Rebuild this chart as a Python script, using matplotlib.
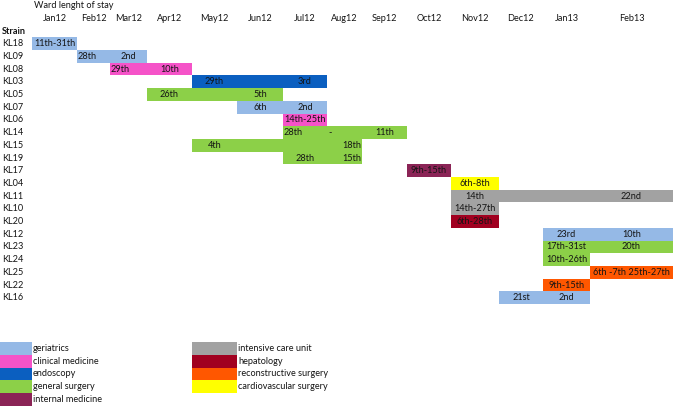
import matplotlib
matplotlib.use("Agg")
import matplotlib.pyplot as plt

# ---------------- data ----------------
months = ["Jan12", "Feb12", "Mar12", "Apr12", "May12", "Jun12", "Jul12",
          "Aug12", "Sep12", "Oct12", "Nov12", "Dec12", "Jan13", "Feb13"]

strains = ["KL18", "KL09", "KL08", "KL03", "KL05", "KL07", "KL06", "KL14",
           "KL15", "KL19", "KL17", "KL04", "KL11", "KL10", "KL20", "KL12",
           "KL23", "KL24", "KL25", "KL22", "KL16"]

bar_start = ["Jan12", "Feb12", "Mar12", "May12", "Apr12", "Jun12", "Jul12", "Jul12",
             "May12", "Jul12", "Oct12", "Nov12", "Nov12", "Nov12", "Nov12", "Jan13",
             "Jan13", "Jan13", "Feb13", "Jan13", "Dec12"]
bar_end = ["Jan12", "Mar12", "Apr12", "Jul12", "Jun12", "Jul12", "Jul12", "Sep12",
           "Aug12", "Aug12", "Oct12", "Nov12", "Feb13", "Nov12", "Nov12", "Feb13",
           "Feb13", "Jan13", "Feb13", "Jan13", "Jan13"]
bar_ward = ["geriatrics", "geriatrics", "clinical medicine", "endoscopy",
            "general surgery", "geriatrics", "clinical medicine", "general surgery",
            "general surgery", "general surgery", "internal medicine",
            "cardiovascular surgery", "intensive care unit", "intensive care unit",
            "hepatology", "geriatrics", "general surgery", "general surgery",
            "reconstructive surgery", "reconstructive surgery", "geriatrics"]

# (strain, month, text)
bar_labels = [
    ("KL18", "Jan12", "11th-31th"),
    ("KL09", "Feb12", "28th"), ("KL09", "Mar12", "2nd"),
    ("KL08", "Mar12", "29th"), ("KL08", "Apr12", "10th"),
    ("KL03", "May12", "29th"), ("KL03", "Jul12", "3rd"),
    ("KL05", "Apr12", "26th"), ("KL05", "Jun12", "5th"),
    ("KL07", "Jun12", "6th"), ("KL07", "Jul12", "2nd"),
    ("KL06", "Jul12", "14th-25th"),
    ("KL14", "Jul12", "28th"), ("KL14", "Aug12", "-"), ("KL14", "Sep12", "11th"),
    ("KL15", "May12", "4th"), ("KL15", "Aug12", "18th"),
    ("KL19", "Jul12", "28th"), ("KL19", "Aug12", "15th"),
    ("KL17", "Oct12", "9th-15th"),
    ("KL04", "Nov12", "6th-8th"),
    ("KL11", "Nov12", "14th"), ("KL11", "Feb13", "22nd"),
    ("KL10", "Nov12", "14th-27th"),
    ("KL20", "Nov12", "6th-28th"),
    ("KL12", "Jan13", "23rd"), ("KL12", "Feb13", "10th"),
    ("KL23", "Jan13", "17th-31st"), ("KL23", "Feb13", "20th"),
    ("KL24", "Jan13", "10th-26th"),
    ("KL25", "Feb13", "6th -7th 25th-27th"),
    ("KL22", "Jan13", "9th-15th"),
    ("KL16", "Dec12", "21st"), ("KL16", "Jan13", "2nd"),
]

legend_left = ["geriatrics", "clinical medicine", "endoscopy", "general surgery",
               "internal medicine"]
legend_right = ["intensive care unit", "hepatology", "reconstructive surgery",
                "cardiovascular surgery"]

# ---------------- style / layout ----------------
ward_colors = {
    "geriatrics": "#95B9E6",
    "clinical medicine": "#F553C8",
    "endoscopy": "#0B5FC0",
    "general surgery": "#8CD048",
    "internal medicine": "#8B2456",
    "intensive care unit": "#A2A2A2",
    "hepatology": "#A10020",
    "reconstructive surgery": "#FF5700",
    "cardiovascular surgery": "#FFFF00",
}
label_align = {("KL09", "Feb12"): "left", ("KL08", "Mar12"): "left",
               ("KL14", "Jul12"): "left", ("KL14", "Aug12"): "left",
               ("KL15", "Aug12"): "right", ("KL19", "Aug12"): "right"}

first_col_w = 32
col_widths = [45, 33, 37, 45, 45, 46, 44, 35, 45, 44, 48, 44, 47, 83]
edges = [first_col_w]
for w in col_widths:
    edges.append(edges[-1] + w)
mi = {m: i for i, m in enumerate(months)}

FONT = ["Lato", "DejaVu Sans"]
FS = 6.6
TXT = "#141414"

fig = plt.figure(figsize=(6.75, 4.09), dpi=100)
ax = fig.add_axes([0, 0, 1, 1])
ax.set_xlim(0, 675)
row_h = 12.7
r_top = -31 / row_h
ax.set_ylim(r_top + 409 / row_h, r_top)
ax.axis("off")

# header
ax.text(edges[0] + 2, -2, "Ward lenght of stay", ha="left", va="center",
        fontsize=FS, family=FONT, color=TXT)
for i, m in enumerate(months):
    ax.text((edges[i] + edges[i + 1]) / 2, -1, m, ha="center", va="center",
            fontsize=FS, family=FONT, color=TXT)
ax.text(2, 0, "Strain", ha="left", va="center", fontsize=FS, family=FONT,
        color=TXT, fontweight="bold")

row_of = {}
for r, s in enumerate(strains, start=1):
    row_of[s] = r
    ax.text(2, r, s, ha="left", va="center", fontsize=FS, family=FONT, color=TXT)

for s, a, b, w in zip(strains, bar_start, bar_end, bar_ward):
    x0 = edges[mi[a]]
    x1 = edges[mi[b] + 1]
    ax.barh(row_of[s], x1 - x0, left=x0, height=1.0, color=ward_colors[w],
            edgecolor="none")

for s, m, t in bar_labels:
    i = mi[m]
    al = label_align.get((s, m), "center")
    if al == "left":
        x = edges[i] + 1
    elif al == "right":
        x = edges[i + 1] - 1
    else:
        x = (edges[i] + edges[i + 1]) / 2
    ax.text(x, row_of[s], t, ha=al, va="center", fontsize=FS, family=FONT,
            color=TXT)

# legend
leg_row0 = len(strains) + 4
for k, w in enumerate(legend_left):
    r = leg_row0 + k
    ax.barh(r, first_col_w, left=0, height=1.0, color=ward_colors[w],
            edgecolor="none")
    ax.text(first_col_w + 1, r, w, ha="left", va="center", fontsize=FS,
            family=FONT, color=TXT)
c = mi["May12"]
for k, w in enumerate(legend_right):
    r = leg_row0 + k
    ax.barh(r, edges[c + 1] - edges[c], left=edges[c], height=1.0,
            color=ward_colors[w], edgecolor="none")
    ax.text(edges[c + 1] + 1, r, w, ha="left", va="center", fontsize=FS,
            family=FONT, color=TXT)

fig.savefig("out.png", dpi=100)
